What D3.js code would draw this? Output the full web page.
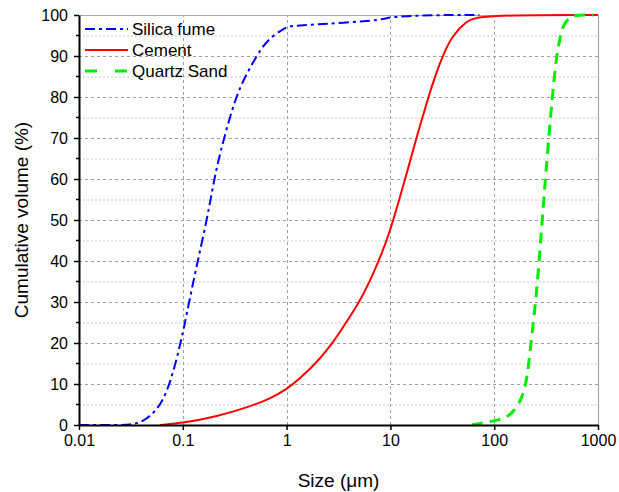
<!doctype html>
<html lang="en">
  <head>
    <meta charset="utf-8">
    <title>Particle size distribution</title>
    <style>
      * { margin: 0; padding: 0; }
      body { background: #fff; }
      svg { display: block; font-family: "Liberation Sans", Arial, sans-serif; }
    </style>
    <script src="https://cdn.jsdelivr.net/npm/d3@7"></script>
  </head>
  <body>
    <svg id="chart" width="619" height="492"></svg>
    <script>
      // sizes in um, cumulative volume in %
      const silicaSize = [0.01, 0.02, 0.03, 0.036, 0.0433, 0.0538, 0.0647, 0.075, 0.087, 0.097, 0.104, 0.112, 0.135, 0.169, 0.203, 0.218, 0.244, 0.294, 0.353, 0.458, 0.571, 0.687, 0.889, 1.0, 1.07, 1.66, 3.45, 8.4, 10, 25, 72];
      const silicaVol  = [0, 0, 0, 0.4, 1.2, 3.2, 6.1, 10.2, 15.9, 21, 24.5, 28.5, 38.5, 49.5, 60.5, 64, 69, 76.4, 82.3, 87.8, 91.9, 94.3, 96.3, 97, 97.3, 97.6, 98.1, 98.8, 99.6, 100, 100];

      const cementSize = [0.06, 0.1, 0.21, 0.47, 0.7, 1.0, 1.33, 2.07, 2.9, 3.24, 5.0, 6.28, 7.9, 10, 12, 15, 18, 22.7, 25.3, 31.7, 39.5, 53.8, 72, 1000];
      const cementVol  = [0, 0.5, 2.0, 4.7, 6.5, 8.7, 11.2, 15.9, 20.7, 22.6, 29.8, 34.9, 40.5, 47.5, 54.5, 63, 70.5, 79, 83, 90, 95, 98.5, 100, 100];

      const sandSize = [61, 84, 112, 146, 182, 203, 217, 232, 253, 271, 290, 316, 353, 395, 440, 471, 560, 628, 900];
      const sandVol  = [0, 0.7, 1.2, 2.4, 6, 10, 15.8, 22.4, 31, 40, 50, 62, 76.8, 89.8, 95.6, 98, 99.8, 100, 100];

      const xTicks = [0.01, 0.1, 1, 10, 100, 1000];
      const xTickLabels = ["0.01", "0.1", "1", "10", "100", "1000"];
      const yTicks = [0, 10, 20, 30, 40, 50, 60, 70, 80, 90, 100];
      const yMinor = [5, 15, 25, 35, 45, 55, 65, 75, 85, 95];

      const seriesNames = ["Silica fume", "Cement", "Quartz Sand"];

      const margin = { left: 79, right: 21, top: 15, bottom: 67 };
      const width = 619, height = 492;

      const svg = d3.select("#chart");

      const x = d3.scaleLog().domain([0.01, 1000]).range([margin.left, width - margin.right]);
      const y = d3.scaleLinear().domain([0, 100]).range([height - margin.bottom, margin.top]);

      const series = [
        { name: seriesNames[0], xs: silicaSize, ys: silicaVol, color: "#0000ff", dash: "10,4,3,4", w: 2 },
        { name: seriesNames[1], xs: cementSize, ys: cementVol, color: "#ff0000", dash: null, w: 2 },
        { name: seriesNames[2], xs: sandSize, ys: sandVol, color: "#00ee00", dash: "11,7", w: 3 }
      ];

      // grid
      const grid = svg.append("g");
      grid.selectAll(".ymin").data(yMinor).enter().append("line")
          .attr("x1", x.range()[0]).attr("x2", x.range()[1])
          .attr("y1", d => y(d) + 0.5).attr("y2", d => y(d) + 0.5)
          .attr("stroke", "#c8c8c8").attr("stroke-width", 1).attr("stroke-dasharray", "2,2");
      grid.selectAll(".ymaj").data(yTicks.slice(1, -1)).enter().append("line")
          .attr("x1", x.range()[0]).attr("x2", x.range()[1])
          .attr("y1", d => y(d) + 0.5).attr("y2", d => y(d) + 0.5)
          .attr("stroke", "#a0a0a0").attr("stroke-width", 1).attr("stroke-dasharray", "3,3");
      grid.selectAll(".xmaj").data(xTicks.slice(1, -1)).enter().append("line")
          .attr("x1", d => Math.round(x(d)) + 0.5).attr("x2", d => Math.round(x(d)) + 0.5)
          .attr("y1", y.range()[0]).attr("y2", y.range()[1])
          .attr("stroke", "#a0a0a0").attr("stroke-width", 1).attr("stroke-dasharray", "3,3");

      // frame (top and right)
      svg.append("path")
          .attr("d", `M${x.range()[0]},${y(100) + 0.5}H${x.range()[1] + 0.5}V${y(0)}`)
          .attr("fill", "none").attr("stroke", "#a8a8a8").attr("stroke-width", 1.2);

      // curves
      const line = d3.line().x(d => x(d[0])).y(d => y(d[1])).curve(d3.curveBasis);
      series.forEach(s => {
        svg.append("path")
            .datum(s.xs.map((v, i) => [v, s.ys[i]]))
            .attr("d", line)
            .attr("fill", "none")
            .attr("stroke", s.color)
            .attr("stroke-width", s.w)
            .attr("stroke-dasharray", s.dash);
      });

      // axes
      const xAxis = svg.append("g")
          .attr("transform", `translate(0,${y(0)})`)
          .call(d3.axisBottom(x).tickValues(xTicks).tickFormat((d, i) => xTickLabels[i]).tickSize(5).tickSizeOuter(0));
      const yAxis = svg.append("g")
          .attr("transform", `translate(${x.range()[0]},0)`)
          .call(d3.axisLeft(y).tickValues(yTicks).tickSize(5).tickSizeOuter(0));
      yAxis.selectAll(".minor").data(yMinor).enter().append("line")
          .attr("x1", 0).attr("x2", -3).attr("y1", d => y(d)).attr("y2", d => y(d))
          .attr("stroke", "#000").attr("stroke-width", 1.5);
      [xAxis, yAxis].forEach(a => {
        a.select(".domain").attr("stroke", "#000").attr("stroke-width", 2);
        a.selectAll(".tick line").attr("stroke", "#000").attr("stroke-width", 1.5);
        a.selectAll(".tick text").attr("fill", "#000").attr("font-size", 16)
            .attr("font-family", "Liberation Sans, Arial, sans-serif");
      });
      xAxis.selectAll(".tick text").attr("y", 10);
      yAxis.selectAll(".tick text").attr("x", -11);

      // axis titles
      svg.append("text")
          .attr("x", (x.range()[0] + x.range()[1]) / 2).attr("y", 487)
          .attr("text-anchor", "middle").attr("font-size", 19).attr("fill", "#000")
          .text("Size (μm)");
      svg.append("text")
          .attr("transform", `translate(28,${(y(0) + y(100)) / 2}) rotate(-90)`)
          .attr("text-anchor", "middle").attr("font-size", 19).attr("fill", "#000")
          .text("Cumulative volume (%)");

      // legend
      const legend = svg.append("g").attr("transform", "translate(85,29)");
      series.forEach((s, i) => {
        const row = legend.append("g").attr("transform", `translate(0,${i * 21})`);
        row.append("line").attr("x1", 0).attr("x2", 43).attr("y1", 0).attr("y2", 0)
            .attr("stroke", s.color).attr("stroke-width", s.w)
            .attr("stroke-dasharray", i === 2 ? "12,18" : s.dash);
        row.append("text").attr("x", 47).attr("y", 6).attr("font-size", 17).attr("fill", "#000")
            .text(s.name);
      });
    </script>
  </body>
</html>
